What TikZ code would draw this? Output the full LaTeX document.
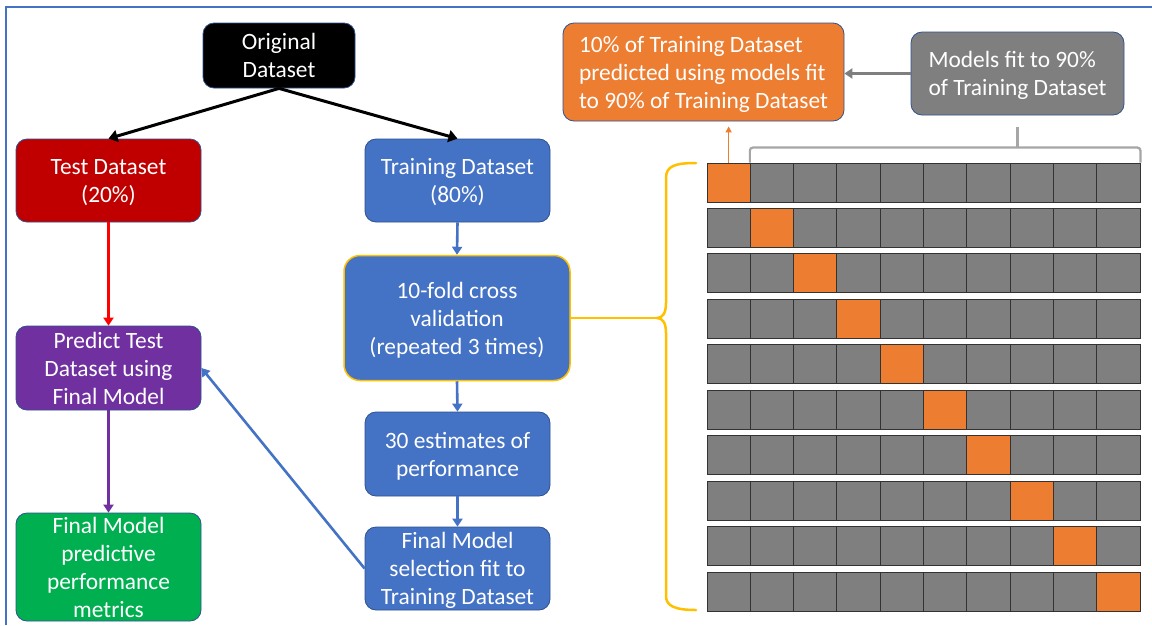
\documentclass[tikz,border=0pt]{standalone}
\usepackage{fontspec}
\setmainfont{Carlito}
\usetikzlibrary{arrows.meta,calc}
\definecolor{tblue}{HTML}{4472C4}
\definecolor{tred}{HTML}{C00000}
\definecolor{tpurple}{HTML}{7030A0}
\definecolor{tgreen}{HTML}{00B050}
\definecolor{torange}{HTML}{ED7D31}
\definecolor{tgray}{HTML}{7F7F7F}
\definecolor{tyellow}{HTML}{FFC000}
\definecolor{tborder}{HTML}{2F528F}
\definecolor{tbracket}{HTML}{A6A6A6}
\definecolor{tredline}{HTML}{FF0000}
\begin{document}
\begin{tikzpicture}[x=1pt,y=-1pt,
  box/.style={rectangle, rounded corners=11pt, draw=tborder, line width=0.8pt,
    text=white, align=center, font=\fontsize{23.4}{28}\selectfont, inner sep=0pt,
    text depth=-1pt},
  sidebox/.style={box, align=left},
  arr/.style={line width=2.6pt, -{Triangle[length=8pt,width=10pt]}},
  cellbox/.style={draw=black!80, line width=0.9pt, minimum width=43.3pt,
    minimum height=39pt, inner sep=0pt},
  yel/.style={draw=tyellow, line width=2.5pt, line cap=round},
  bracket/.style={draw=tbracket, line width=2.2pt},
]
\useasboundingbox (0,0) rectangle (1152,625);
\fill[white] (0,0) rectangle (1152,625);
\draw[tblue, line width=1.5pt] (6,625) -- (6,7) -- (1152,7);

% left / middle flow
\node[box, fill=black, minimum width=152pt, minimum height=65pt] (orig) at (279,55.5) {Original\\Dataset};
\node[box, fill=tred, minimum width=185pt, minimum height=83pt] (test) at (108.5,180.5) {Test Dataset\\(20\%)};
\node[box, fill=tblue, minimum width=185pt, minimum height=83pt] (train) at (457.5,180.5) {Training Dataset\\(80\%)};
\node[box, fill=tblue, draw=tyellow, line width=1.5pt, rounded corners=16pt, minimum width=226pt, minimum height=125pt] (cv) at (457,318) {10-fold cross\\validation\\(repeated 3 times)};
\node[box, fill=tblue, minimum width=185pt, minimum height=84pt] (est) at (457.5,454) {30 estimates of\\performance};
\node[box, fill=tblue, minimum width=185pt, minimum height=83pt] (sel) at (457.5,568.5) {Final Model\\selection fit to\\Training Dataset};
\node[box, fill=tpurple, minimum width=185pt, minimum height=84pt] (pred) at (108.5,368) {Predict Test\\Dataset using\\Final Model};
\node[box, fill=tgreen, minimum width=185pt, minimum height=108pt] (metr) at (108.5,567) {Final Model\\predictive\\performance\\metrics};

\draw[arr, black, line width=3pt, -{Triangle[length=9pt,width=12pt]}] (orig.south) -- (test.north);
\draw[arr, black, line width=3pt, -{Triangle[length=9pt,width=12pt]}] (orig.south) -- (train.north);
\draw[arr, tredline] (test.south) -- (pred.north);
\draw[arr, tblue] (train.south) -- (cv.north);
\draw[arr, tblue] (cv.south) -- (est.north);
\draw[arr, tblue] (est.south) -- (sel.north);
\draw[arr, tblue] (sel.west) -- (pred.east);
\draw[arr, tpurple] (pred.south) -- (metr.north);

% right side
\node[sidebox, fill=torange, minimum width=281pt, minimum height=98pt] (ten) at (703.5,72) {10\% of Training Dataset\\predicted using models fit\\to 90\% of Training Dataset};
\node[sidebox, fill=tgray, minimum width=213pt, minimum height=83pt] (ninety) at (1017.5,73.5) {Models fit to 90\%\\of Training Dataset};
\draw[tgray, line width=2.5pt, -{Triangle[length=8pt,width=10pt]}] (ninety.west) -- (ninety.west -| ten.east);

% grid
\foreach \r in {1,...,10}{
  \foreach \c in {1,...,10}{
    \ifnum\r=\c \def\cc{torange}\else\def\cc{tgray}\fi
    \node[cellbox, fill=\cc] (c-\r-\c) at ({707+43.3*(\c-0.5)},{182.5+45.44*(\r-1)}) {};
  }
}

\draw[torange, line width=1.3pt, shorten >=5pt, -{Triangle[length=6pt,width=6pt]}] (c-1-1.north) -- (c-1-1.north |- ten.south);

% bracket above folds 2-10
\coordinate (bkl) at ($(c-1-2.north west)+(0,-15)$);
\coordinate (bkr) at ($(c-1-10.north east)+(0,-15)$);
\draw[bracket, rounded corners=3pt] (c-1-2.north west) -- (bkl) -- (bkr) -- (c-1-10.north east);
\coordinate (bkm) at (ninety.south |- bkl);
\draw[bracket] (bkm) -- ($(ninety.south)+(0,12)$);

% yellow brace
\coordinate (cusp) at (657,318);
\draw[yel] (696,163) .. controls (675,163) and (666,166) .. (666,178) -- (666,303)
  .. controls (666,314) and (662,318) .. (cusp)
  .. controls (662,318) and (666,322) .. (666,333) -- (666,596)
  .. controls (666,606) and (675,610) .. (696,610);
\draw[yel] (cv.east) -- (cusp);
\end{tikzpicture}
\end{document}
